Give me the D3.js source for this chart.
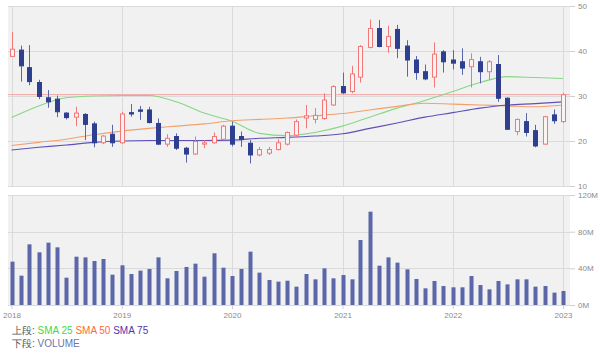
<!DOCTYPE html>
<html>
<head>
<meta charset="utf-8">
<script src="https://cdn.jsdelivr.net/npm/d3@7"></script>
<style>
  body { margin: 0; background: #fff; }
  svg text { font-family: "Liberation Sans", Arial, sans-serif; }
</style>
</head>
<body>
<div class="svg_container"></div>
<script>
// monthly candles, Jan 2018 .. Jan 2023
var months = d3.timeMonths(new Date(2018, 0, 1), new Date(2023, 0, 2));

var open  = [38.8,40.2,36.3,33.0,29.6,29.3,26.2,25.3,25.9,23.8,19.6,21.5,
             19.6,26.3,26.9,26.9,23.9,19.3,21.0,18.4,17.1,19.3,19.6,20.4,
             23.3,21.0,19.5,16.9,17.3,18.1,19.3,21.3,25.1,24.8,25.0,28.0,
             32.1,31.0,34.2,40.8,45.0,41.0,44.8,41.1,38.0,35.4,34.2,39.8,
             38.0,37.6,36.5,37.6,35.4,37.0,29.5,22.1,24.3,22.3,19.3,25.8,
             24.3];
var high  = [44.2,41.2,41.3,33.6,31.3,30.1,26.4,27.6,26.2,24.3,21.3,23.6,
             26.5,28.2,27.8,27.6,25.0,21.5,21.7,18.7,21.0,20.2,21.9,23.6,
             24.3,22.1,20.2,18.7,18.7,20.4,22.1,24.8,28.0,27.3,30.6,32.4,
             35.2,36.7,41.3,47.0,46.9,45.6,45.8,42.4,38.9,37.0,41.9,40.2,
             40.2,40.6,39.5,38.7,38.0,39.1,29.7,25.0,26.2,23.6,25.6,27.0,
             30.7];
var low   = [38.7,33.2,32.4,29.3,27.4,25.3,24.8,23.3,20.2,18.6,19.3,18.7,
             19.4,25.4,24.7,23.9,19.1,18.7,18.0,15.2,16.9,18.4,19.4,20.2,
             18.8,18.7,15.0,16.6,16.9,17.9,19.0,20.8,22.8,23.9,24.7,27.8,
             30.5,30.6,33.0,40.6,40.8,39.6,38.4,34.3,33.6,33.5,31.9,35.2,
             35.9,34.7,31.9,32.8,33.6,28.7,22.5,21.3,21.0,18.6,19.2,23.8,
             24.0];
var close = [40.4,36.7,33.2,29.9,28.7,26.5,25.2,26.2,23.7,19.6,21.1,19.6,
             26.0,26.0,26.6,24.1,19.3,20.6,18.4,17.1,19.9,19.6,21.0,23.3,
             19.3,20.3,16.9,18.1,18.1,19.6,21.9,24.3,25.6,25.7,29.1,32.1,
             30.7,34.9,41.0,45.0,41.0,43.2,40.6,38.0,35.2,33.8,39.3,37.6,
             37.3,36.2,38.1,35.4,37.6,29.5,22.6,24.8,21.9,18.9,25.4,24.5,
             30.3];

// volume in millions
var volume = [47.3,32.0,66.2,57.5,68.0,62.9,29.8,52.7,52.0,48.0,50.2,33.1,
              43.3,33.8,37.5,39.3,52.0,29.1,37.1,41.5,45.1,30.9,56.4,40.7,
              31.6,39.3,58.2,35.3,27.3,25.5,26.5,20.0,33.8,28.0,40.0,29.1,
              32.7,28.0,70.9,101.8,42.9,52.0,46.2,38.9,28.4,18.2,26.2,20.7,
              19.3,19.3,31.6,21.8,17.1,26.2,22.5,28.0,28.0,20.0,20.7,13.5,
              15.3];

// moving averages every third month
var smaIndex = [0,3,6,9,12,15,18,21,24,27,30,33,36,39,42,45,48,51,54,57,60];
var sma25 = [25.2,27.8,29.6,30.0,30.1,30.1,28.7,26.2,24.4,21.7,21.2,21.9,
             23.3,25.3,27.3,29.0,31.0,33.0,34.3,34.1,33.9];
var sma50 = [19.0,19.7,20.4,21.4,22.2,22.8,23.3,23.8,24.5,24.8,25.1,25.6,
             26.1,26.9,27.7,28.4,28.2,28.0,27.8,27.6,28.0];
var sma75 = [18.0,18.6,19.1,19.7,20.0,20.1,20.1,20.1,20.2,20.6,20.8,21.1,
             21.6,22.8,24.0,25.3,26.3,27.3,28.0,28.3,28.7];

var priceTicks = [10, 20, 30, 40, 50];
var volumeTicks = [0, 40, 80, 120];
var yearTicks = [2018, 2019, 2020, 2021, 2022, 2023];

var width = 600, height = 354;
var plotLeft = 8, plotRight = 570;
var top1 = 6, bottom1 = 186;
var top2 = 195, bottom2 = 305;

var svg = d3.select(".svg_container").append("svg")
  .attr("width", width)
  .attr("height", height);

var x = d3.scaleTime()
  .domain([new Date(2018, 0, 1), new Date(2023, 0, 1)])
  .range([11.5, 563]);
var y = d3.scaleLinear().domain([10, 50]).range([bottom1, top1]);
var yv = d3.scaleLinear().domain([0, 120]).range([bottom2, top2]);

// panel backgrounds
[[top1, bottom1], [top2, bottom2]].forEach(function(p) {
  svg.append("rect")
    .attr("x", plotLeft).attr("y", p[0])
    .attr("width", plotRight - plotLeft).attr("height", p[1] - p[0])
    .attr("fill", "#f1f1f1");
});

// grid lines
var grid = svg.append("g").attr("stroke", "#dadada").attr("stroke-width", 1);
priceTicks.forEach(function(t) {
  grid.append("line").attr("x1", plotLeft).attr("x2", plotRight)
    .attr("y1", Math.round(y(t)) + 0.5).attr("y2", Math.round(y(t)) + 0.5);
});
volumeTicks.forEach(function(t) {
  grid.append("line").attr("x1", plotLeft).attr("x2", plotRight)
    .attr("y1", Math.round(yv(t)) + 0.5).attr("y2", Math.round(yv(t)) + 0.5);
});
yearTicks.forEach(function(yr) {
  var xx = Math.round(x(new Date(yr, 0, 1))) + 0.5;
  grid.append("line").attr("x1", xx).attr("x2", xx).attr("y1", top1).attr("y2", bottom1);
  grid.append("line").attr("x1", xx).attr("x2", xx).attr("y1", top2).attr("y2", bottom2);
});

// right axes
var axisPrice = svg.append("g")
  .attr("transform", "translate(" + plotRight + ",0)")
  .call(d3.axisRight(y).tickValues(priceTicks).tickSize(5).tickPadding(3));
var axisVol = svg.append("g")
  .attr("transform", "translate(" + plotRight + ",0)")
  .call(d3.axisRight(yv).tickValues(volumeTicks).tickSize(5).tickPadding(3)
    .tickFormat(function(d) { return d + "M"; }));
// bottom axis
var axisTime = svg.append("g")
  .attr("transform", "translate(0," + bottom2 + ")")
  .call(d3.axisBottom(x).tickValues(yearTicks.map(function(yr) { return new Date(yr, 0, 1); }))
    .tickSize(4).tickPadding(3).tickFormat(d3.timeFormat("%Y")));
[axisPrice, axisVol, axisTime].forEach(function(a) {
  a.select(".domain").remove();
  a.selectAll("line").attr("stroke", "#cfcfcf");
  a.selectAll("text").attr("fill", "#8a8a8a").style("font-size", "8px");
});

// last price line
svg.append("line")
  .attr("x1", plotLeft).attr("x2", plotRight)
  .attr("y1", y(close[close.length - 1])).attr("y2", y(close[close.length - 1]))
  .attr("stroke", "#f4a3a3").attr("stroke-width", 1);

// moving averages
var line = d3.line()
  .x(function(d) { return x(months[d[0]]); })
  .y(function(d) { return y(d[1]); })
  .curve(d3.curveMonotoneX);
[[sma25, "#86d886"], [sma50, "#f3a06a"], [sma75, "#5f50b6"]].forEach(function(s) {
  svg.append("path")
    .datum(smaIndex.map(function(m, i) { return [m, s[0][i]]; }))
    .attr("d", line)
    .attr("fill", "none")
    .attr("stroke", s[1])
    .attr("stroke-width", 1.1);
});

// candles
var candles = months.map(function(m, i) {
  return { date: m, o: open[i], h: high[i], l: low[i], c: close[i], v: volume[i] };
});
var up = "#f27878", down = "#2f3f8f";

var cg = svg.selectAll(".candle")
  .data(candles)
  .enter().append("g")
  .attr("class", "candle");
cg.append("line")
  .attr("x1", function(d) { return Math.round(x(d.date)) + 0.5; })
  .attr("x2", function(d) { return Math.round(x(d.date)) + 0.5; })
  .attr("y1", function(d) { return y(d.h); })
  .attr("y2", function(d) { return y(d.l); })
  .attr("stroke", function(d) { return d.c >= d.o ? up : "#5a66a6"; })
  .attr("stroke-width", 1);
cg.append("rect")
  .attr("x", function(d) { return Math.round(x(d.date)) - 1.5; })
  .attr("width", 4)
  .attr("y", function(d) { return y(Math.max(d.o, d.c)); })
  .attr("height", function(d) { return Math.max(1, Math.abs(y(d.o) - y(d.c))); })
  .attr("fill", function(d) { return d.c >= d.o ? "#fbf2f2" : down; })
  .attr("stroke", function(d) { return d.c >= d.o ? up : down; })
  .attr("stroke-width", 1);

// volume bars
svg.selectAll(".bar")
  .data(candles)
  .enter().append("rect")
  .attr("class", "bar")
  .attr("x", function(d) { return Math.round(x(d.date)) - 1.5; })
  .attr("width", 4)
  .attr("y", function(d) { return yv(d.v); })
  .attr("height", function(d) { return bottom2 - yv(d.v); })
  .attr("fill", "#5b67a8");

// legend
var leg1 = svg.append("text").attr("x", 12).attr("y", 334).style("font-size", "10px");
leg1.append("tspan").attr("fill", "#555").text("上段: ");
leg1.append("tspan").attr("fill", "#44d844").text("SMA 25 ");
leg1.append("tspan").attr("fill", "#ff6a33").text("SMA 50 ");
leg1.append("tspan").attr("fill", "#5533aa").text("SMA 75");
var leg2 = svg.append("text").attr("x", 12).attr("y", 347).style("font-size", "10px");
leg2.append("tspan").attr("fill", "#555").text("下段: ");
leg2.append("tspan").attr("fill", "#6a76ad").text("VOLUME");
</script>
</body>
</html>
